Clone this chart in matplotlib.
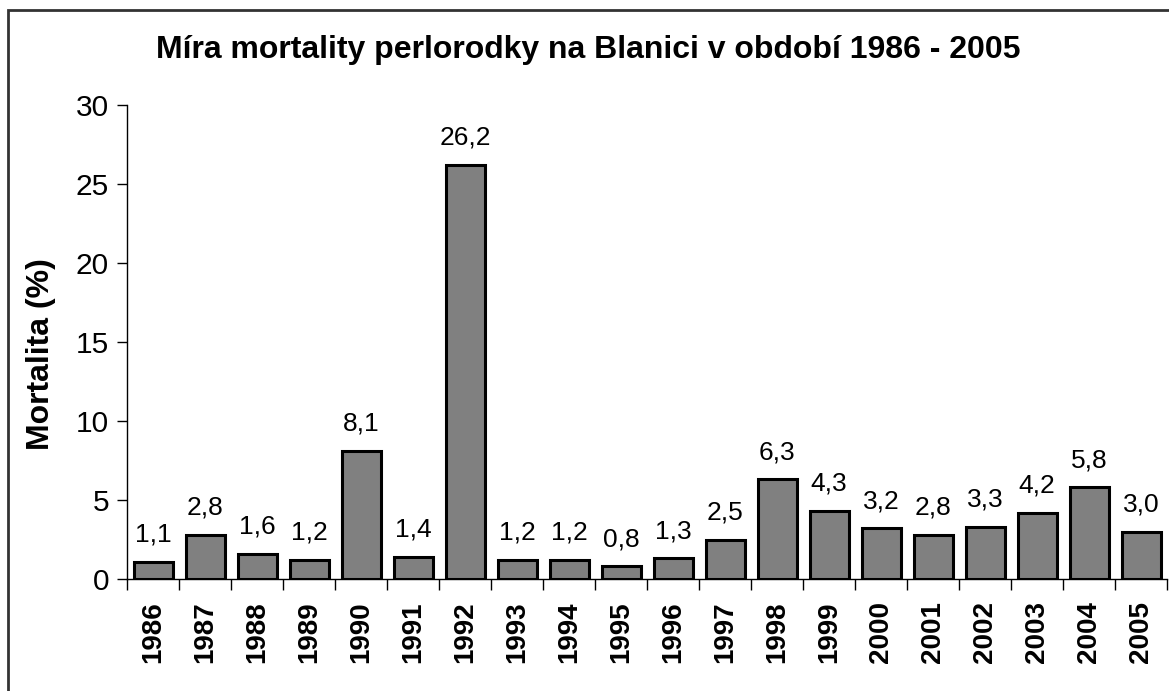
#!/usr/bin/env python3
"""mortality of freshwater pearl mussel in Blanice, 1986-2005"""

import matplotlib
matplotlib.use("Agg")
import matplotlib.pyplot as plt
from matplotlib.patches import Rectangle
import numpy as np

years = [str(y) for y in range(1986, 2006)]
mortality = [1.1, 2.8, 1.6, 1.2, 8.1, 1.4, 26.2, 1.2, 1.2, 0.8,
             1.3, 2.5, 6.3, 4.3, 3.2, 2.8, 3.3, 4.2, 5.8, 3.0]
y_ticks = [0, 5, 10, 15, 20, 25, 30]

plt.rcParams["font.family"] = ["Liberation Sans", "DejaVu Sans"]

fig = plt.figure(figsize=(11.69, 6.91), dpi=100)
ax = fig.add_axes([127 / 1169, 1 - 579 / 691, 1040 / 1169, (579 - 105) / 691])

x = np.arange(len(years))
ax.bar(x, mortality, width=0.75, color="#808080", edgecolor="black", linewidth=2.2)

for xi, v in zip(x, mortality):
    ax.annotate(f"{v:.1f}".replace(".", ","), (xi, v), xytext=(0, 11),
                textcoords="offset points", ha="center", va="bottom", fontsize=19)

ax.set_xlim(-0.5, len(years) - 0.5)
ax.set_ylim(0, 30)
ax.set_yticks(y_ticks)
ax.set_yticklabels([str(t) for t in y_ticks], fontsize=21.5)
ax.tick_params(axis="y", direction="out", length=7, width=1, pad=6)

ax.set_xticks(x)
ax.set_xticklabels(years, rotation=90, fontsize=20, fontweight="bold")
ax.tick_params(axis="x", which="major", length=0, pad=16)
ax.set_xticks(np.arange(len(years) + 1) - 0.5, minor=True)
ax.tick_params(axis="x", which="minor", direction="out", length=8, width=1)

for side in ("top", "right"):
    ax.spines[side].set_visible(False)
for side in ("left", "bottom"):
    ax.spines[side].set_linewidth(1)

fig.text(41 / 1169, 1 - 354 / 691, "Mortalita (%)", rotation=90, ha="center",
         va="center", fontsize=23, fontweight="bold")
fig.text(588 / 1169, 1 - 50 / 691, "Míra mortality perlorodky na Blanici v období 1986 - 2005",
         ha="center", va="center", fontsize=23, fontweight="bold")

# outer chart frame, cut off at the right and bottom edges
fig.patches.append(Rectangle((8 / 1169, -0.05), 1.1, 1 - 10 / 691 + 0.05,
                             transform=fig.transFigure, fill=False,
                             edgecolor="#333333", linewidth=2))

fig.savefig("out.png", dpi=100)
